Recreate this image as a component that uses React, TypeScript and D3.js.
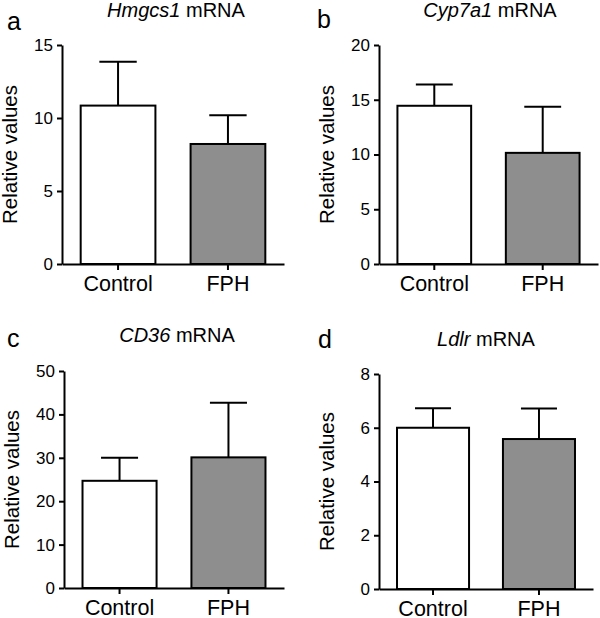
import React, { useRef, useEffect } from 'react';
import * as d3 from 'd3';

const groups = ['Control', 'FPH'];

const hmgcs1Mean = [10.85, 8.22];
const hmgcs1Err = [3.0, 1.96];
const hmgcs1Ticks = [0, 5, 10, 15];

const cyp7a1Mean = [14.45, 10.15];
const cyp7a1Err = [1.95, 4.2];
const cyp7a1Ticks = [0, 5, 10, 15, 20];

const cd36Mean = [24.7, 30.1];
const cd36Err = [5.3, 12.6];
const cd36Ticks = [0, 10, 20, 30, 40, 50];

const ldlrMean = [6.0, 5.58];
const ldlrErr = [0.73, 1.14];
const ldlrTicks = [0, 2, 4, 6, 8];

const font = "'Liberation Sans', Arial, sans-serif";
const barFills = ['#ffffff', '#8e8e8e'];

// layout of each panel in the page
const panels = [
  { letter: 'a', gene: 'Hmgcs1', mean: hmgcs1Mean, err: hmgcs1Err, ticks: hmgcs1Ticks,
    x0: 62, x1: 284, yTop: 45, yBottom: 264, letterX: 7, letterY: 30, titleX: 176, titleY: 17 },
  { letter: 'b', gene: 'Cyp7a1', mean: cyp7a1Mean, err: cyp7a1Err, ticks: cyp7a1Ticks,
    x0: 379, x1: 598, yTop: 45, yBottom: 264, letterX: 317, letterY: 28, titleX: 490, titleY: 17 },
  { letter: 'c', gene: 'CD36', mean: cd36Mean, err: cd36Err, ticks: cd36Ticks,
    x0: 64, x1: 284, yTop: 371, yBottom: 588, letterX: 7, letterY: 347, titleX: 177, titleY: 342 },
  { letter: 'd', gene: 'Ldlr', mean: ldlrMean, err: ldlrErr, ticks: ldlrTicks,
    x0: 379, x1: 593, yTop: 374, yBottom: 589, letterX: 318, letterY: 348, titleX: 486, titleY: 346 },
];

function drawPanel(svg, p) {
  const g = svg.append('g');

  const x = d3.scaleBand().domain(groups).range([p.x0, p.x1])
    .paddingInner(0.32).paddingOuter(0.17);
  const y = d3.scaleLinear()
    .domain([0, p.ticks[p.ticks.length - 1]])
    .range([p.yBottom, p.yTop]);

  // bars
  g.selectAll('rect.bar')
    .data(groups)
    .enter()
    .append('rect')
    .attr('class', 'bar')
    .attr('x', (d) => x(d))
    .attr('y', (d, i) => y(p.mean[i]))
    .attr('width', x.bandwidth())
    .attr('height', (d, i) => y(0) - y(p.mean[i]))
    .attr('fill', (d, i) => barFills[i])
    .attr('stroke', '#000')
    .attr('stroke-width', 2);

  // upper error bars
  const cap = x.bandwidth() / 2;
  groups.forEach((d, i) => {
    const cx = x(d) + x.bandwidth() / 2;
    const top = y(p.mean[i] + p.err[i]);
    g.append('line')
      .attr('x1', cx).attr('x2', cx)
      .attr('y1', y(p.mean[i])).attr('y2', top)
      .attr('stroke', '#000').attr('stroke-width', 2);
    g.append('line')
      .attr('x1', cx - cap / 2).attr('x2', cx + cap / 2)
      .attr('y1', top).attr('y2', top)
      .attr('stroke', '#000').attr('stroke-width', 2);
  });

  // y axis
  const yAxis = g.append('g')
    .attr('transform', `translate(${p.x0},0)`)
    .call(d3.axisLeft(y).tickValues(p.ticks).tickSize(5).tickSizeOuter(0).tickPadding(4));
  yAxis.select('.domain').attr('stroke-width', 2);
  yAxis.selectAll('.tick line').attr('stroke-width', 2);
  yAxis.selectAll('.tick text')
    .attr('font-family', font).attr('font-size', 17).attr('fill', '#000');

  // x axis
  const xAxis = g.append('g')
    .attr('transform', `translate(0,${p.yBottom})`)
    .call(d3.axisBottom(x).tickSize(6).tickSizeOuter(0).tickPadding(6));
  xAxis.select('.domain').attr('stroke-width', 2);
  xAxis.selectAll('.tick line').attr('stroke-width', 2);
  xAxis.selectAll('.tick text')
    .attr('font-family', font).attr('font-size', 21.5).attr('fill', '#000')
    .attr('dy', '0.72em');

  // y label
  g.append('text')
    .attr('transform', `translate(${p.x0 - 45},${(p.yTop + p.yBottom) / 2}) rotate(-90)`)
    .attr('text-anchor', 'middle')
    .attr('font-family', font)
    .attr('font-size', 20.5)
    .text('Relative values');

  // title
  const title = g.append('text')
    .attr('x', p.titleX).attr('y', p.titleY)
    .attr('text-anchor', 'middle')
    .attr('font-family', font)
    .attr('font-size', 20);
  title.append('tspan').attr('font-style', 'italic').text(p.gene);
  title.append('tspan').text(' mRNA');

  // panel letter
  g.append('text')
    .attr('x', p.letterX).attr('y', p.letterY)
    .attr('font-family', font)
    .attr('font-size', 25)
    .text(p.letter);
}

export default function App() {
  const svgRef = useRef(null);

  useEffect(() => {
    document.body.style.margin = '0';
    const svg = d3.select(svgRef.current);
    svg.selectAll('*').remove();
    panels.forEach((p) => drawPanel(svg, p));
  }, []);

  return <svg ref={svgRef} width={600} height={618} style={{ display: 'block', background: '#fff' }}></svg>;
}
